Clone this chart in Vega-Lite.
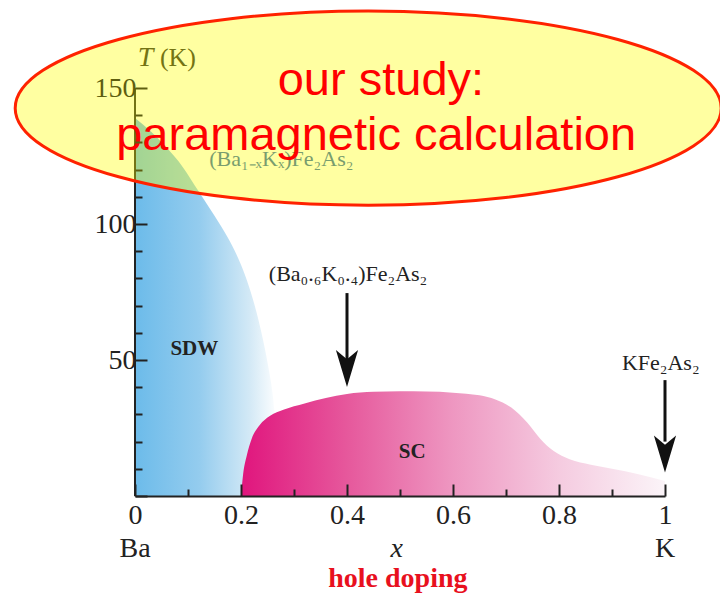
{
  "$schema": "https://vega.github.io/schema/vega-lite/v6.json",
  "width": 530,
  "height": 408,
  "autosize": {"type": "none"},
  "padding": {"left": 135, "top": 88, "right": 55, "bottom": 99},
  "background": "white",
  "config": {
    "view": {"stroke": null},
    "axis": {"grid": false, "labelFont": "Liberation Serif", "labelFontSize": 28, "labelOverlap": false, "labelFlush": false, "labelColor": "#222222", "title": null}
  },
  "datasets": {
    "sdw": [
      {"x": 0, "T": 139}, {"x": 0.03, "T": 134}, {"x": 0.06, "T": 128}, {"x": 0.09, "T": 121},
      {"x": 0.12, "T": 112}, {"x": 0.15, "T": 103}, {"x": 0.175, "T": 95}, {"x": 0.2, "T": 85},
      {"x": 0.215, "T": 77}, {"x": 0.23, "T": 67}, {"x": 0.242, "T": 57}, {"x": 0.252, "T": 47},
      {"x": 0.26, "T": 37}, {"x": 0.265, "T": 26}, {"x": 0.268, "T": 14}, {"x": 0.27, "T": 0}
    ],
    "sc": [
      {"x": 0.2, "T": 0}, {"x": 0.204, "T": 8}, {"x": 0.211, "T": 15}, {"x": 0.22, "T": 21},
      {"x": 0.235, "T": 26}, {"x": 0.255, "T": 29.5}, {"x": 0.28, "T": 31.7}, {"x": 0.32, "T": 34},
      {"x": 0.36, "T": 36}, {"x": 0.4, "T": 37.5}, {"x": 0.45, "T": 38.3}, {"x": 0.5, "T": 38.5},
      {"x": 0.55, "T": 38.4}, {"x": 0.6, "T": 38}, {"x": 0.65, "T": 37}, {"x": 0.68, "T": 35.5},
      {"x": 0.71, "T": 32.5}, {"x": 0.74, "T": 27}, {"x": 0.765, "T": 21}, {"x": 0.79, "T": 16.5},
      {"x": 0.82, "T": 13.5}, {"x": 0.86, "T": 11.5}, {"x": 0.9, "T": 10}, {"x": 0.95, "T": 8},
      {"x": 1.0, "T": 5.5}
    ]
  },
  "encoding": {
    "x": {
      "field": "x", "type": "quantitative",
      "scale": {"domain": [0, 1], "nice": false, "zero": false},
      "axis": {
        "title": null, "zindex": 1,
        "values": [0, 0.1, 0.2, 0.3, 0.4, 0.5, 0.6, 0.7, 0.8, 0.9, 1],
        "labelExpr": "round(datum.value*10) % 2 == 0 ? (datum.value == 0 ? '0' : datum.value == 1 ? '1' : format(datum.value, '.1f')) : ''",
        "labelFlush": false, "labelOverlap": false,
        "labelFont": "Liberation Serif", "labelFontSize": 28, "labelColor": "#222222",
        "labelPadding": 17,
        "domainColor": "#222222", "domainWidth": 2,
        "tickColor": "#222222", "tickWidth": 2,
        "tickSize": {"condition": {"test": "round(datum.value*10) % 2 == 0", "value": -12}, "value": -7}
      }
    },
    "y": {
      "field": "T", "type": "quantitative",
      "scale": {"domain": [0, 150], "nice": false, "zero": false},
      "axis": {
        "title": null, "zindex": 1,
        "values": [0, 10, 20, 30, 40, 50, 60, 70, 80, 90, 100, 110, 120, 130, 140, 150],
        "labelExpr": "datum.value % 50 == 0 && datum.value > 0 ? datum.label : ''",
        "labelFlush": false, "labelOverlap": false,
        "labelFont": "Liberation Serif", "labelFontSize": 28,
        "labelColor": {"condition": {"test": "datum.value > 115", "value": "#5e5e10"}, "value": "#222222"},
        "labelPadding": 11,
        "domain": false,
        "tickColor": {"condition": {"test": "datum.value > 115", "value": "#5e5e10"}, "value": "#222222"},
        "tickWidth": 2,
        "tickSize": {"condition": {"test": "datum.value % 50 == 0", "value": -12}, "value": -7}
      }
    }
  },
  "layer": [
    {
      "data": {"name": "sdw"},
      "mark": {
        "type": "area", "interpolate": "monotone",
        "color": {"gradient": "linear", "x1": 0, "x2": 1, "y1": 0, "y2": 0,
          "stops": [
            {"offset": 0, "color": "#6cbbea"},
            {"offset": 0.45, "color": "#94ccee"},
            {"offset": 0.8, "color": "#d3e9f6"},
            {"offset": 1, "color": "#ffffff"}
          ]}
      }
    },
    {
      "data": {"name": "sc"},
      "mark": {
        "type": "area", "interpolate": "monotone",
        "color": {"gradient": "linear", "x1": 0, "x2": 1, "y1": 0, "y2": 0,
          "stops": [
            {"offset": 0, "color": "#e0157d"},
            {"offset": 0.25, "color": "#e6589c"},
            {"offset": 0.5, "color": "#ee97c1"},
            {"offset": 0.75, "color": "#f5cbe0"},
            {"offset": 1, "color": "#fbf4f8"}
          ]}
      }
    },
    {
      "data": {"values": [{"x": 0, "T": 0, "T2": 150}]},
      "mark": {"type": "rule", "color": "#222222", "strokeWidth": 2},
      "encoding": {"y2": {"field": "T2"}}
    },
    {
      "data": {"values": [{"x": 0.112, "T": 54, "label": "SDW"}, {"x": 0.523, "T": 16.2, "label": "SC"}]},
      "mark": {"type": "text", "font": "Liberation Serif", "fontWeight": "bold", "fontSize": 21, "color": "#222222", "baseline": "middle"},
      "encoding": {"text": {"field": "label"}}
    },
    {
      "data": {"values": [
        {"x": 0.402, "T": 79, "label": "(Ba₀.₆K₀.₄)Fe₂As₂"},
        {"x": 0.992, "T": 46.3, "label": "KFe₂As₂"}
      ]},
      "mark": {"type": "text", "font": "Liberation Serif", "fontSize": 22, "color": "#222222", "baseline": "alphabetic"},
      "encoding": {"text": {"field": "label"}}
    },
    {
      "data": {"values": [{"x": 0.276, "T": 121.3, "label": "(Ba₁₋ₓKₓ)Fe₂As₂"}]},
      "mark": {"type": "text", "font": "Liberation Serif", "fontSize": 22, "color": "#2a64b0", "baseline": "alphabetic"},
      "encoding": {"text": {"field": "label"}}
    },
    {
      "data": {"values": [{"x": 0.02, "T": 158, "label": "T"}, {"x": 0.494, "T": -22.6, "label": "x"}]},
      "mark": {"type": "text", "font": "Liberation Serif", "fontStyle": "italic", "fontSize": 28, "color": "#222222", "baseline": "alphabetic"},
      "encoding": {"text": {"field": "label"}}
    },
    {
      "data": {"values": [{"x": 0.047, "T": 158, "label": "(K)"}]},
      "mark": {"type": "text", "font": "Liberation Serif", "fontSize": 26, "color": "#222222", "baseline": "alphabetic", "align": "left"},
      "encoding": {"text": {"field": "label"}}
    },
    {
      "data": {"values": [{"x": 0, "T": -22.6, "label": "Ba"}, {"x": 1, "T": -22.6, "label": "K"}]},
      "mark": {"type": "text", "font": "Liberation Serif", "fontSize": 28, "color": "#222222", "baseline": "alphabetic"},
      "encoding": {"text": {"field": "label"}}
    },
    {
      "data": {"values": [{"x": 0.496, "T": -33.3, "label": "hole doping"}]},
      "mark": {"type": "text", "font": "Liberation Serif", "fontWeight": "bold", "fontSize": 28, "color": "#e8101e", "baseline": "alphabetic"},
      "encoding": {"text": {"field": "label"}}
    },
    {
      "data": {"values": [{"x": 0.4, "T": 74.6, "T2": 50}, {"x": 1, "T": 42.6, "T2": 20}]},
      "mark": {"type": "rule", "color": "#111111", "strokeWidth": 3},
      "encoding": {"y2": {"field": "T2"}}
    },
    {
      "data": {"values": [{"x": 0.4, "T": 46.9}, {"x": 1, "T": 15.4}]},
      "mark": {"type": "point", "filled": true, "color": "#111111", "opacity": 1, "size": 1369,
        "shape": "M 0 1 L -0.6 -1 L 0 -0.5 L 0.6 -1 Z"}
    },
    {
      "data": {"values": [{"x": 0.44, "T": 142.6}]},
      "mark": {"type": "point", "filled": false, "fill": "#ffff00", "fillOpacity": 0.37,
        "stroke": "#ff2200", "strokeWidth": 3, "strokeOpacity": 1, "opacity": 1, "size": 498436,
        "shape": "M -1 0 A 1 0.275 0 0 1 1 0 A 1 0.275 0 0 1 -1 0 Z"}
    },
    {
      "data": {"values": [
        {"x": 0.464, "T": 147.4, "label": "our study:"},
        {"x": 0.455, "T": 127.2, "label": "paramagnetic calculation"}
      ]},
      "mark": {"type": "text", "font": "Liberation Sans", "fontSize": 47, "color": "#ff0000", "baseline": "alphabetic"},
      "encoding": {"text": {"field": "label"}}
    }
  ]
}
